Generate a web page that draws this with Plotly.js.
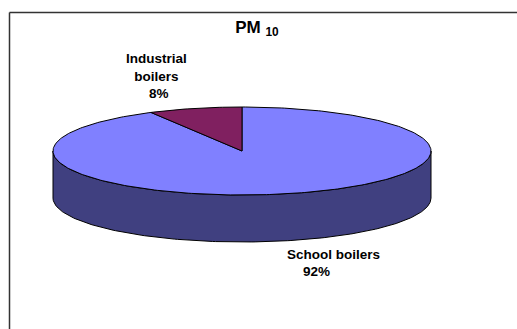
<!DOCTYPE html>
<html>
<head>
<meta charset="utf-8">
<script src="https://cdn.plot.ly/plotly-3.0.1.min.js"></script>
<style>
  html, body { margin: 0; padding: 0; background: #fff; overflow: hidden; scrollbar-width: none; width: 517px; height: 329px; }
  ::-webkit-scrollbar { display: none; width: 0; height: 0; }
  #chart { width: 517px; height: 329px; overflow: hidden; }
</style>
</head>
<body>
<div id="chart"></div>
<script>
// PM10 emissions split by source
const categories = ['School boilers', 'Industrial boilers'];
const shares = [92, 8];

// Styling per slice
const topColors = ['#8080FF', '#802060'];
const sideColors = ['#404080', '#401030'];

// Label placement (page pixels): category name centre, percentage centre
const labelLayout = [
  { wrap: false, name: [333.5, 254.6], pct: [316, 271.3] },
  { wrap: true,  name: [156, 67.5],    pct: [159, 93.3] }
];

// Pie geometry in page pixels (axes are mapped 1:1 onto the page)
const W = 517, H = 329;
const CX = 242, CY = 151, RX = 189, RY = 44, DEPTH = 47;
const START = 90; // first slice starts at 12 o'clock and runs clockwise
const FONT = 'Liberation Sans, Arial, Helvetica, sans-serif';

function pt(deg, dy) {
  const r = deg * Math.PI / 180;
  return [CX + RX * Math.cos(r), CY - RY * Math.sin(r) + (dy || 0)];
}
function arc(a0, a1, dy) {
  const n = Math.max(2, Math.ceil(Math.abs(a1 - a0)));
  const xs = [], ys = [];
  for (let i = 0; i <= n; i++) {
    const p = pt(a0 + (a1 - a0) * i / n, dy);
    xs.push(p[0]); ys.push(p[1]);
  }
  return [xs, ys];
}

const total = shares.reduce((a, b) => a + b, 0);
let cum = 0;
const slices = shares.map(v => {
  const a0 = START - 360 * cum / total;
  cum += v;
  const a1 = START - 360 * cum / total;
  return { a0, a1 };
});

const sideTraces = [], topTraces = [];
slices.forEach((s, i) => {
  // outer wall: only the part of the rim that faces the viewer
  const lo = Math.min(s.a0, s.a1), hi = Math.max(s.a0, s.a1);
  for (let k = -2; k <= 1; k++) {
    const w0 = -180 + 360 * k, w1 = 360 * k;
    const t0 = Math.max(lo, w0), t1 = Math.min(hi, w1);
    if (t1 > t0) {
      const up = arc(t0, t1, 0), down = arc(t1, t0, DEPTH);
      sideTraces.push({
        type: 'scatter', mode: 'lines',
        x: up[0].concat(down[0], [up[0][0]]),
        y: up[1].concat(down[1], [up[1][0]]),
        fill: 'toself', fillcolor: sideColors[i],
        line: { color: '#000', width: 1 },
        hoverinfo: 'skip', showlegend: false
      });
    }
  }
  // top face wedge
  const a = arc(s.a0, s.a1, 0);
  topTraces.push({
    type: 'scatter', mode: 'lines',
    x: [CX].concat(a[0], [CX]),
    y: [CY].concat(a[1], [CY]),
    fill: 'toself', fillcolor: topColors[i],
    line: { color: '#000', width: 1 },
    name: categories[i], hoverinfo: 'name', showlegend: false
  });
});

const annotations = [];
shares.forEach((v, i) => {
  const L = labelLayout[i];
  const nameText = L.wrap ? categories[i].replace(' ', '<br>') : categories[i];
  const pctText = Math.round(v / total * 100) + '%';
  [[nameText, L.name], [pctText, L.pct]].forEach(([t, p]) => {
    annotations.push({
      text: t, x: p[0], y: p[1], xref: 'x', yref: 'y',
      xanchor: 'center', yanchor: 'middle', showarrow: false, align: 'center',
      font: { family: FONT, size: 13.5, color: '#000', weight: 'bold' }
    });
  });
});

// chart-area frame: top and left edges (the rest runs off the page)
const frameLine = { color: '#333', width: 1.5 };
const layout = {
  width: W, height: H,
  margin: { l: 0, r: 0, t: 0, b: 0, pad: 0 },
  paper_bgcolor: '#fff', plot_bgcolor: '#fff',
  showlegend: false,
  title: {
    text: '<b>PM <sub>10</sub></b>',
    font: { family: FONT, size: 17, color: '#000' },
    x: 257 / W, xref: 'paper', xanchor: 'center',
    y: 1 - 21 / H, yref: 'container', yanchor: 'top'
  },
  xaxis: { range: [0, W], visible: false, fixedrange: true, showline: false, zeroline: false, showgrid: false },
  yaxis: { range: [H, 0], visible: false, fixedrange: true, showline: false, zeroline: false, showgrid: false },
  annotations: annotations,
  shapes: [
    { type: 'line', xref: 'x', yref: 'y', x0: 9.5, x1: W, y0: 12.5, y1: 12.5, line: frameLine, layer: 'below' },
    { type: 'line', xref: 'x', yref: 'y', x0: 9.5, x1: 9.5, y0: 12.5, y1: H, line: frameLine, layer: 'below' },
    // keep the right-hand page edge clear below the frame's top edge
    { type: 'rect', xref: 'x', yref: 'y', x0: W - 4, x1: W + 2, y0: 14, y1: H + 2, line: { width: 0 }, fillcolor: '#fff', layer: 'above' }
  ]
};

Plotly.newPlot('chart', sideTraces.concat(topTraces), layout, { staticPlot: true, displayModeBar: false });
</script>
</body>
</html>
